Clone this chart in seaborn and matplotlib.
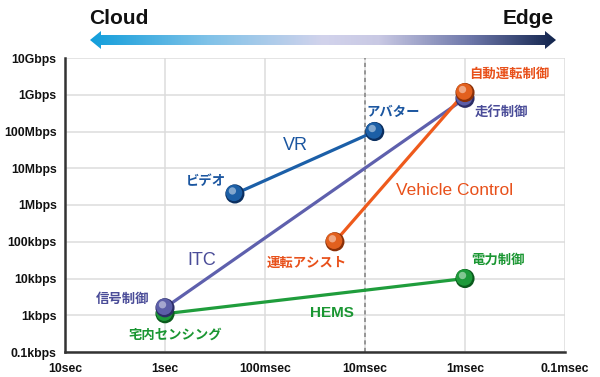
import numpy as np
import pandas as pd
import matplotlib
matplotlib.use("Agg")
import matplotlib.pyplot as plt
import seaborn as sns
from matplotlib import font_manager
from matplotlib.patches import Polygon
from matplotlib.colors import LinearSegmentedColormap
from matplotlib.transforms import offset_copy

# ---------------- data ----------------
point_names = ["ビデオ", "アバター", "信号制御", "走行制御",
               "運転アシスト", "自動運転制御", "宅内センシング", "電力制御"]
point_series = ["VR", "VR", "ITC", "ITC",
                "Vehicle Control", "Vehicle Control", "HEMS", "HEMS"]
latency_s = [0.2, 0.008, 1.0, 0.001, 0.02, 0.001, 1.0, 0.001]
bandwidth_bps = [2e6, 1e8, 1.6e3, 8e8, 1e5, 1.15e9, 1.1e3, 1e4]

series_order = ["HEMS", "ITC", "Vehicle Control", "VR"]
x_tick_values = [10, 1, 0.1, 0.01, 0.001, 0.0001]
x_tick_labels = ["10sec", "1sec", "100msec", "10msec", "1msec", "0.1msec"]
y_tick_values = [1e2, 1e3, 1e4, 1e5, 1e6, 1e7, 1e8, 1e9, 1e10]
y_tick_labels = ["0.1kbps", "1kbps", "10kbps", "100kbps", "1Mbps",
                 "10Mbps", "100Mbps", "1Gbps", "10Gbps"]
boundary_latency = [0.01]
header_left = "Cloud"
header_right = "Edge"

# ---------------- style ----------------
line_colors = {"VR": "#1b5fa8", "ITC": "#5e60ad",
               "Vehicle Control": "#ee5a1c", "HEMS": "#1f9d3c"}
ball_colors = {"VR": "#1c5fa6", "ITC": "#5c5ea8",
               "Vehicle Control": "#e2601e", "HEMS": "#1d9a3a"}
ball_dark = {"VR": "#0b2f60", "ITC": "#2c2d66",
             "Vehicle Control": "#8a3008", "HEMS": "#0a5a1c"}
text_colors = {"VR": "#1b56a0", "ITC": "#4a4c98",
               "Vehicle Control": "#e8501a", "HEMS": "#1a9632"}
label_offsets_px = {"ビデオ": (-29, 13), "アバター": (19, 20), "信号制御": (-42, 9),
                    "走行制御": (36, -14), "運転アシスト": (-28, -21),
                    "自動運転制御": (44, 19), "宅内センシング": (10, -21),
                    "電力制御": (33, 19)}
series_label_pos = {"VR": (0.46, 0.704), "ITC": (0.274, 0.31),
                    "Vehicle Control": (0.78, 0.551), "HEMS": (0.534, 0.133)}
series_label_size = {"VR": 13, "ITC": 13, "Vehicle Control": 12.5, "HEMS": 11}

sns.set_theme(style="white")
names = {f.name for f in font_manager.fontManager.ttflist}
latin = "Liberation Sans Narrow" if "Liberation Sans Narrow" in names else "Liberation Sans"
plt.rcParams["font.family"] = [latin, "Noto Sans CJK JP", "DejaVu Sans"]
jp_font = ["Noto Sans CJK JP", "DejaVu Sans"]

df = pd.DataFrame({"name": point_names, "series": point_series,
                   "latency": latency_s, "bandwidth": bandwidth_bps})

W, H = 600, 377
fig = plt.figure(figsize=(W / 100, H / 100), dpi=100)
ax = fig.add_axes([65 / W, 1 - 352 / H, 500 / W, 294 / H])

sns.lineplot(data=df, x="latency", y="bandwidth", hue="series",
             hue_order=series_order, palette=line_colors, units="series",
             estimator=None, sort=False, lw=2.3, legend=False, ax=ax, zorder=3)

ax.set_xscale("log")
ax.set_yscale("log")
ax.set_xlim(10, 0.0001)
ax.set_ylim(1e2, 1e10)

# balls
for i, s in enumerate(series_order):
    sub = df[df.series == s]
    z = 5 + i
    sns.scatterplot(data=sub, x="latency", y="bandwidth", color=ball_dark[s],
                    s=190, edgecolor="none", ax=ax, zorder=z, legend=False)
    tr1 = offset_copy(ax.transData, fig=fig, x=-0.8, y=1.0, units="dots")
    ax.scatter(sub.latency, sub.bandwidth, s=140, color=ball_colors[s],
               edgecolor="none", transform=tr1, zorder=z + 0.1)
    tr2 = offset_copy(ax.transData, fig=fig, x=-2.5, y=3.0, units="dots")
    ax.scatter(sub.latency, sub.bandwidth, s=28, color="white", alpha=0.45,
               edgecolor="none", transform=tr2, zorder=z + 0.2)

# point labels
for _, r in df.iterrows():
    ax.annotate(r["name"], (r.latency, r.bandwidth),
                xytext=label_offsets_px[r["name"]], textcoords="offset pixels",
                ha="center", va="center", fontsize=9.6, fontweight="bold",
                color=text_colors[r.series], family=jp_font, zorder=20)

# series labels
for s, (px, py) in series_label_pos.items():
    ax.text(px, py, s, transform=ax.transAxes, ha="center", va="center",
            fontsize=series_label_size[s], color=text_colors[s], family=[latin],
            fontweight="bold" if s == "HEMS" else "normal")

# boundary
for b in boundary_latency:
    ax.axvline(b, color="#888888", lw=1.2, ls=(0, (2.5, 2)), zorder=2)

ax.set_xticks(x_tick_values)
ax.set_xticklabels(x_tick_labels)
ax.set_yticks(y_tick_values)
ax.set_yticklabels(y_tick_labels)
ax.minorticks_off()
ax.tick_params(axis="both", length=0, labelsize=8.8, colors="#111111")
ax.tick_params(axis="y", pad=6)
ax.tick_params(axis="x", pad=8)
for lab in ax.get_xticklabels() + ax.get_yticklabels():
    lab.set_fontweight("bold")
ax.grid(True, color="#dcdcdc", lw=1.1)
ax.set_axisbelow(True)
for sp in ["top", "right"]:
    ax.spines[sp].set_visible(False)
for sp in ["left", "bottom"]:
    ax.spines[sp].set_color("#333333")
    ax.spines[sp].set_linewidth(1.8)
ax.set_xlabel("")
ax.set_ylabel("")

# header arrow
hax = fig.add_axes([0, 0, 1, 1], zorder=-1)
hax.set_xlim(0, W)
hax.set_ylim(H, 0)
hax.axis("off")
x0, x1, yc = 90, 556, 40
sh, hh, hl = 5, 9, 11
verts = [(x0, yc), (x0 + hl, yc - hh), (x0 + hl, yc - sh), (x1 - hl, yc - sh),
         (x1 - hl, yc - hh), (x1, yc), (x1 - hl, yc + hh), (x1 - hl, yc + sh),
         (x0 + hl, yc + sh), (x0 + hl, yc + hh)]
poly = Polygon(verts, closed=True, facecolor="none", edgecolor="none")
hax.add_patch(poly)
cmap = LinearSegmentedColormap.from_list(
    "cloudedge", [(0, "#129edb"), (0.25, "#7fc2e8"), (0.5, "#d2d3ec"),
                  (0.62, "#c9c9e4"), (0.82, "#6c76a8"), (1, "#13254e")])
grad = np.linspace(0, 1, 256).reshape(1, -1)
im = hax.imshow(grad, cmap=cmap, extent=[x0, x1, yc + hh, yc - hh], aspect="auto")
im.set_clip_path(poly)
hax.text(119, 18, header_left, ha="center", va="center", fontsize=15,
         fontweight="bold", color="#111111", family=[latin])
hax.text(528, 18, header_right, ha="center", va="center", fontsize=15,
         fontweight="bold", color="#111111", family=[latin])

fig.savefig("out.png", dpi=100)
